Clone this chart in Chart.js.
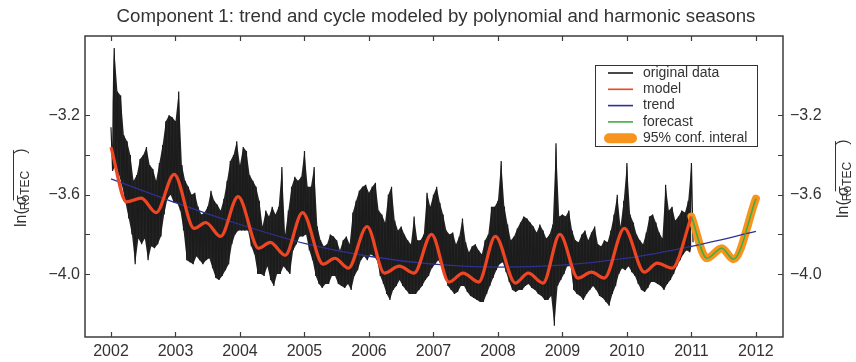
<!DOCTYPE html>
<html>
<head>
<meta charset="utf-8">
<title>Component 1</title>
<script src="https://cdn.jsdelivr.net/npm/chart.js@4.4.1/dist/chart.umd.min.js"></script>
<style>
    html, body { margin: 0; padding: 0; background: #fff; }
    #chartContainer { width: 856px; height: 362px; }
</style>
</head>
<body>
<div id="chartContainer"><canvas id="componentChart" width="856" height="362"></canvas></div>
<script>
// Axis ticks
const yearTicks = [2002, 2003, 2004, 2005, 2006, 2007, 2008, 2009, 2010, 2011, 2012];
const valueTicks = [-3.2, -3.6, -4.0];
const minorValueTicks = [-3.4, -3.8];

// Original data: upper and lower edge of the daily series, one pair every 0.05 year from 2002.0
const dataStart = 2002.0;
const dataStep = 0.05;
const dataHigh = [
    -3.26, -2.86, -3.08, -3.10, -3.30, -3.33, -3.40, -3.53, -3.50, -3.42, -3.40, -3.36, -3.45, -3.47, -3.53, -3.44, -3.35, -3.23, -3.20, -3.21,
    -3.23, -3.08, -3.45, -3.53, -3.56, -3.60, -3.59, -3.66, -3.70, -3.69, -3.66, -3.58, -3.63, -3.65, -3.68, -3.62, -3.53, -3.43, -3.40, -3.33,
    -3.45, -3.36, -3.38, -3.50, -3.53, -3.56, -3.63, -3.76, -3.68, -3.71, -3.66, -3.70, -3.66, -3.46, -3.80, -3.68, -3.56, -3.51, -3.53, -3.51,
    -3.38, -3.56, -3.56, -3.46, -3.76, -3.83, -3.86, -3.85, -3.80, -3.81, -3.83, -3.88, -3.83, -3.81, -3.85, -3.69, -3.63, -3.58, -3.56, -3.55,
    -3.59, -3.56, -3.54, -3.68, -3.70, -3.74, -3.60, -3.56, -3.73, -3.78, -3.76, -3.80, -3.83, -3.85, -3.71, -3.83, -3.83, -3.80, -3.59, -3.66,
    -3.60, -3.56, -3.64, -3.70, -3.78, -3.80, -3.79, -3.85, -3.81, -3.72, -3.84, -3.89, -3.86, -3.85, -3.88, -3.90, -3.83, -3.80, -3.66, -3.66,
    -3.63, -3.43, -3.66, -3.75, -3.83, -3.81, -3.77, -3.74, -3.71, -3.72, -3.74, -3.76, -3.79, -3.75, -3.78, -3.82, -3.80, -3.75, -3.34, -3.71,
    -3.70, -3.71, -3.68, -3.78, -3.83, -3.84, -3.80, -3.78, -3.83, -3.79, -3.76, -3.85, -3.86, -3.83, -3.84, -3.78, -3.70, -3.60, -3.76, -3.63,
    -3.44, -3.70, -3.74, -3.80, -3.83, -3.85, -3.79, -3.71, -3.70, -3.74, -3.79, -3.82, -3.55, -3.68, -3.66, -3.73, -3.71, -3.68, -3.69, -3.63,
    -3.44
];
const dataLow = [
    -3.48, -3.45, -3.50, -3.56, -3.64, -3.72, -3.80, -3.95, -3.82, -3.85, -3.82, -3.93, -3.86, -3.87, -3.85, -3.81, -3.70, -3.62, -3.60, -3.64,
    -3.64, -3.68, -3.78, -3.93, -3.94, -3.95, -3.91, -3.93, -3.95, -3.93, -3.92, -3.97, -4.02, -4.03, -4.01, -3.98, -3.95, -3.85, -3.80, -3.78,
    -3.78, -3.78, -3.78, -3.86, -3.90, -4.00, -4.00, -4.01, -3.96, -4.03, -4.06, -4.00, -4.00, -3.96, -3.98, -4.00, -3.88, -3.85, -3.81, -3.81,
    -3.80, -3.88, -3.93, -4.01, -4.05, -4.07, -4.05, -4.05, -4.01, -4.01, -4.05, -4.06, -4.07, -4.05, -4.08, -4.01, -3.98, -3.93, -3.91, -3.93,
    -3.90, -3.91, -3.93, -4.01, -4.05, -4.10, -4.13, -4.08, -4.06, -4.03, -4.06, -4.08, -4.10, -4.10, -4.10, -4.08, -4.06, -4.03, -4.01, -3.97,
    -3.95, -3.93, -3.96, -4.01, -4.06, -4.08, -4.10, -4.09, -4.06, -4.06, -4.09, -4.11, -4.12, -4.13, -4.14, -4.14, -4.10, -4.06, -4.02, -3.98,
    -3.95, -3.94, -3.99, -4.04, -4.08, -4.09, -4.08, -4.08, -4.06, -4.05, -4.07, -4.08, -4.10, -4.11, -4.13, -4.13, -4.11, -4.26, -4.06, -4.03,
    -4.00, -3.96, -3.96, -4.08, -4.10, -4.11, -4.13, -4.10, -4.08, -4.06, -4.08, -4.11, -4.12, -4.14, -4.16, -4.10, -4.06, -4.00, -3.97, -3.98,
    -3.96, -3.99, -4.01, -4.05, -4.08, -4.09, -4.07, -4.04, -4.04, -4.05, -4.06, -4.08, -4.05, -4.03, -4.00, -3.96, -3.93, -3.90, -3.88, -3.89,
    -3.84
];

// Model (trend + harmonic seasons): turning points of the fitted curve
const modelYears = [
    2002.00, 2002.24, 2002.47, 2002.70, 2002.98, 2003.29, 2003.47, 2003.70, 2003.97,
    2004.29, 2004.47, 2004.70, 2004.97, 2005.29, 2005.47, 2005.68, 2005.97,
    2006.24, 2006.47, 2006.70, 2006.97, 2007.24, 2007.46, 2007.70, 2007.96,
    2008.27, 2008.47, 2008.70, 2008.96, 2009.24, 2009.45, 2009.65, 2009.96,
    2010.27, 2010.47, 2010.70, 2011.00
];
const modelValues = [
    -3.36, -3.636, -3.617, -3.69, -3.497, -3.77, -3.74, -3.81, -3.61,
    -3.87, -3.84, -3.905, -3.69, -3.95, -3.92, -3.97, -3.76,
    -3.995, -3.96, -3.995, -3.80, -4.04, -3.995, -4.04, -3.81,
    -4.045, -3.995, -4.045, -3.80, -4.02, -3.99, -4.02, -3.77,
    -3.99, -3.945, -3.97, -3.71
];

// Polynomial trend
const trendYears = [2002, 2003, 2004, 2005, 2006, 2007, 2008, 2009, 2010, 2011, 2012];
const trendValues = [-3.52, -3.64, -3.75, -3.845, -3.91, -3.95, -3.965, -3.955, -3.92, -3.86, -3.785];

// One-year forecast
const forecastYears = [2011.00, 2011.24, 2011.47, 2011.65, 2012.00];
const forecastValues = [-3.71, -3.92, -3.87, -3.925, -3.62];

const legendLabels = ["original data", "model", "trend", "forecast", "95% conf. interal"];
const chartTitle = "Component 1: trend and cycle modeled by polynomial and harmonic seasons";

function toPoints(xs, ys) {
    return xs.map(function (x, i) { return { x: x, y: ys[i] }; });
}

// zig-zag between the upper and lower edge so the series reads as a dense noisy band
const originalPoints = [];
const upperEdge = [];
const lowerEdge = [];
dataHigh.forEach(function (hi, i) {
    const t = dataStart + i * dataStep;
    originalPoints.push({ x: t, y: hi });
    originalPoints.push({ x: t + dataStep / 2, y: dataLow[i] });
    upperEdge.push({ x: t, y: hi });
    lowerEdge.push({ x: t + dataStep / 2, y: dataLow[i] });
});

const FONT = "'Liberation Sans', Arial, sans-serif";
const TEXT = "#333";
const AXIS = "#3c3c3c";

function signed(v) {
    return (v < 0 ? "\u2212" : "") + Math.abs(v).toFixed(1);
}

// ln( sigma_RoTEC ) with an overline, written bottom-to-top
function drawAxisTitle(ctx, cx, cy) {
    ctx.save();
    ctx.translate(cx, cy);
    ctx.rotate(-Math.PI / 2);
    const big = "16px " + FONT;
    const small = "12px " + FONT;
    ctx.font = big;
    const wLn = ctx.measureText("ln(").width;
    const wSig = ctx.measureText("\u03c3").width;
    const wClose = ctx.measureText(")").width;
    ctx.font = small;
    const wSub = ctx.measureText("RoTEC").width;
    let x = -(wLn + wSig + wSub + wClose) / 2;
    ctx.fillStyle = TEXT;
    ctx.textBaseline = "alphabetic";
    ctx.font = big;
    ctx.fillText("ln(", x, 5);
    x += wLn;
    const barStart = x;
    ctx.fillText("\u03c3", x, 5);
    x += wSig;
    ctx.font = small;
    ctx.fillText("RoTEC", x, 8);
    x += wSub;
    const barEnd = x;
    ctx.font = big;
    ctx.fillText(")", x, 5);
    ctx.strokeStyle = TEXT;
    ctx.lineWidth = 1;
    ctx.beginPath();
    ctx.moveTo(barStart, -7.5);
    ctx.lineTo(barEnd + 1, -7.5);
    ctx.stroke();
    ctx.restore();
}

const decorations = {
    id: "decorations",
    afterDatasetsDraw(chart) {
        const ctx = chart.ctx;
        const a = chart.chartArea;
        const xs = chart.scales.x;
        const ys = chart.scales.y;
        ctx.save();
        ctx.strokeStyle = AXIS;
        ctx.lineWidth = 1.5;
        ctx.strokeRect(a.left, a.top, a.right - a.left, a.bottom - a.top);
        ctx.lineWidth = 1.2;
        ctx.beginPath();
        yearTicks.forEach(function (yr) {
            const px = Math.round(xs.getPixelForValue(yr)) + 0.5;
            ctx.moveTo(px, a.bottom);
            ctx.lineTo(px, a.bottom - 5);
            ctx.moveTo(px, a.top);
            ctx.lineTo(px, a.top + 5);
        });
        valueTicks.concat(minorValueTicks).forEach(function (v) {
            const py = Math.round(ys.getPixelForValue(v)) + 0.5;
            ctx.moveTo(a.left, py);
            ctx.lineTo(a.left + 5, py);
            ctx.moveTo(a.right, py);
            ctx.lineTo(a.right - 5, py);
        });
        ctx.stroke();
        ctx.restore();
    },
    afterDraw(chart) {
        const ctx = chart.ctx;
        const a = chart.chartArea;
        const sets = chart.data.datasets;
        ctx.save();

        // title
        ctx.fillStyle = TEXT;
        ctx.font = "18.7px " + FONT;
        ctx.textAlign = "center";
        ctx.textBaseline = "middle";
        ctx.fillText(chartTitle, (a.left + a.right) / 2 + 2, 17);

        drawAxisTitle(ctx, 21, 182);
        drawAxisTitle(ctx, 843, 173);

        // legend box
        const box = { left: 595.5, top: 65.5, width: 162, height: 81 };
        ctx.fillStyle = "#fff";
        ctx.fillRect(box.left, box.top, box.width, box.height);
        ctx.strokeStyle = "#333";
        ctx.lineWidth = 1;
        ctx.strokeRect(box.left, box.top, box.width, box.height);
        const order = [4, 1, 2, 0, 3];
        ctx.font = "14px " + FONT;
        ctx.textAlign = "left";
        ctx.textBaseline = "middle";
        legendLabels.forEach(function (label, i) {
            const ds = sets[order[i]];
            const y = box.top + 7.5 + i * 16.3;
            ctx.strokeStyle = ds.borderColor;
            ctx.lineCap = i === 4 ? "round" : "butt";
            ctx.lineWidth = i === 4 ? 10 : 1.6;
            ctx.beginPath();
            ctx.moveTo(i === 4 ? 609 : 608, y);
            ctx.lineTo(i === 4 ? 632 : 633, y);
            ctx.stroke();
            ctx.fillStyle = TEXT;
            ctx.fillText(label, 643, y);
        });
        ctx.restore();
    }
};

const data = {
    datasets: [
        {
            label: legendLabels[3],
            data: toPoints(forecastYears, forecastValues),
            borderColor: "#3fae3f",
            borderWidth: 1.6,
            cubicInterpolationMode: "monotone"
        },
        {
            label: legendLabels[1],
            data: toPoints(modelYears, modelValues),
            borderColor: "#ee4523",
            borderWidth: 3.2,
            cubicInterpolationMode: "monotone"
        },
        {
            label: legendLabels[2],
            data: toPoints(trendYears, trendValues),
            borderColor: "#2e3192",
            borderWidth: 1.3,
            cubicInterpolationMode: "monotone"
        },
        {
            label: legendLabels[4],
            data: toPoints(forecastYears, forecastValues),
            borderColor: "#f7941d",
            borderWidth: 8,
            borderCapStyle: "round",
            cubicInterpolationMode: "monotone"
        },
        {
            label: legendLabels[0],
            data: originalPoints,
            borderColor: "#1b1b1b",
            borderWidth: 1.2,
            tension: 0
        },
        {
            // body of the noisy band, filled down to the lower edge
            label: "upper edge",
            data: upperEdge,
            borderWidth: 0,
            borderColor: "rgba(0,0,0,0)",
            backgroundColor: "#242424",
            fill: "+1",
            tension: 0
        },
        {
            label: "lower edge",
            data: lowerEdge,
            borderWidth: 0,
            borderColor: "rgba(0,0,0,0)",
            fill: false,
            tension: 0
        }
    ]
};

const options = {
    responsive: false,
    animation: false,
    events: [],
    devicePixelRatio: 1,
    layout: { padding: { top: 36, left: 0, right: 0, bottom: 0 } },
    elements: { point: { radius: 0 } },
    plugins: {
        legend: { display: false },
        title: { display: false },
        tooltip: { enabled: false }
    },
    scales: {
        x: {
            type: "linear",
            min: 2001.597,
            max: 2012.42,
            grid: { display: false, drawTicks: false },
            border: { display: false },
            afterBuildTicks: function (scale) {
                scale.ticks = yearTicks.map(function (v) { return { value: v }; });
            },
            afterFit: function (scale) { scale.height = 25; },
            ticks: {
                padding: 5,
                color: TEXT,
                font: { family: FONT, size: 16 },
                maxRotation: 0,
                callback: function (v) { return String(v); }
            }
        },
        y: {
            type: "linear",
            position: "left",
            min: -4.317,
            max: -2.80,
            grid: { display: false, drawTicks: false },
            border: { display: false },
            afterBuildTicks: function (scale) {
                scale.ticks = valueTicks.map(function (v) { return { value: v }; });
            },
            afterFit: function (scale) { scale.width = 85; },
            ticks: {
                padding: 5,
                color: TEXT,
                font: { family: FONT, size: 16 },
                callback: signed
            }
        },
        yRight: {
            type: "linear",
            position: "right",
            min: -4.317,
            max: -2.80,
            grid: { display: false, drawTicks: false },
            border: { display: false },
            afterBuildTicks: function (scale) {
                scale.ticks = valueTicks.map(function (v) { return { value: v }; });
            },
            afterFit: function (scale) { scale.width = 73; },
            ticks: {
                padding: 7,
                color: TEXT,
                font: { family: FONT, size: 16 },
                callback: signed
            }
        }
    }
};

const ctx = document.getElementById("componentChart").getContext("2d");
new Chart(ctx, {
    type: "line",
    data: data,
    options: options,
    plugins: [decorations]
});
</script>
</body>
</html>
